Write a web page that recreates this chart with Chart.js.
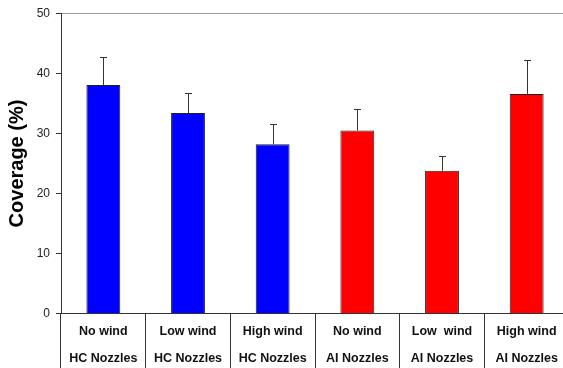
<!DOCTYPE html>
<html>
<head>
<meta charset="utf-8">
<script src="https://cdn.jsdelivr.net/npm/chart.js@4/dist/chart.umd.min.js"></script>
<style>
html,body{margin:0;padding:0;background:#fff;overflow:hidden;}
#wrap{width:563px;height:368px;overflow:hidden;position:relative;}
canvas{display:block;}
</style>
</head>
<body>
<div id="wrap"><canvas id="c" width="569" height="368"></canvas></div>
<script>
const categories = [
  ["No wind", "HC Nozzles"],
  ["Low wind", "HC Nozzles"],
  ["High wind", "HC Nozzles"],
  ["No wind", "AI Nozzles"],
  ["Low  wind", "AI Nozzles"],
  ["High wind", "AI Nozzles"]
];
const coverage = [38.1, 33.4, 28.2, 30.5, 23.8, 36.6];
const errors = [4.7, 3.4, 3.4, 3.5, 2.4, 5.6];
const barColors = ["#0000FF", "#0000FF", "#0000FF", "#FF0000", "#FF0000", "#FF0000"];
const yTicks = [0, 10, 20, 30, 40, 50];

const errorBars = {
  id: 'errorBars',
  afterDatasetsDraw(chart) {
    const ctx = chart.ctx;
    const meta = chart.getDatasetMeta(0);
    const ys = chart.scales.y;
    ctx.save();
    ctx.strokeStyle = '#333';
    ctx.lineWidth = 1;
    meta.data.forEach((bar, i) => {
      const x = Math.round(bar.x) + 0.5;
      const y0 = ys.getPixelForValue(coverage[i]);
      const y1 = Math.round(ys.getPixelForValue(coverage[i] + errors[i])) + 0.5;
      ctx.beginPath();
      ctx.moveTo(x, y0);
      ctx.lineTo(x, y1);
      ctx.moveTo(x - 3.5, y1);
      ctx.lineTo(x + 3.5, y1);
      ctx.stroke();
    });
    ctx.restore();
  }
};

new Chart(document.getElementById('c'), {
  type: 'bar',
  data: {
    labels: categories,
    datasets: [{
      data: coverage,
      backgroundColor: barColors,
      borderColor: '#222',
      borderWidth: 1,
      borderSkipped: 'bottom',
      categoryPercentage: 1.0,
      barPercentage: 0.4
    }]
  },
  options: {
    responsive: false,
    animation: false,
    layout: { padding: { top: 13.5, left: 0, right: 0, bottom: 0 } },
    plugins: { legend: { display: false }, tooltip: { enabled: false } },
    scales: {
      x: {
        offset: true,
        grid: {
          offset: true,
          drawOnChartArea: false,
          drawTicks: true,
          tickLength: 55,
          color: '#333',
          tickColor: '#333'
        },
        border: { display: true, color: '#333', width: 1 },
        ticks: {
          color: '#111',
          font: { family: 'Arial, "Liberation Sans", sans-serif', size: 12.5, weight: 'bold', lineHeight: 2.16 },
          padding: -50.3,
          maxRotation: 0,
          autoSkip: false
        },
        afterFit(scale) { scale.height = 54.5; }
      },
      y: {
        min: 0,
        max: 50,
        afterBuildTicks(scale) { scale.ticks = yTicks.map(v => ({ value: v })); },
        grid: {
          drawOnChartArea: true,
          color: (c) => (c.tick && c.tick.value === 50) ? '#999' : 'rgba(0,0,0,0)',
          tickColor: '#333',
          tickLength: 5,
          drawTicks: true
        },
        border: { display: true, color: '#333', width: 1 },
        ticks: {
          color: '#222',
          font: { family: 'Arial, "Liberation Sans", sans-serif', size: 12 },
          padding: 6
        },
        title: {
          display: true,
          text: 'Coverage (%)',
          color: '#000',
          font: { family: 'Arial, "Liberation Sans", sans-serif', size: 20, weight: 'bold', lineHeight: 1.2 },
          padding: { top: 5, bottom: 0 }
        },
        afterFit(scale) { scale.width = 61; }
      }
    }
  },
  plugins: [errorBars]
});
</script>
</body>
</html>
